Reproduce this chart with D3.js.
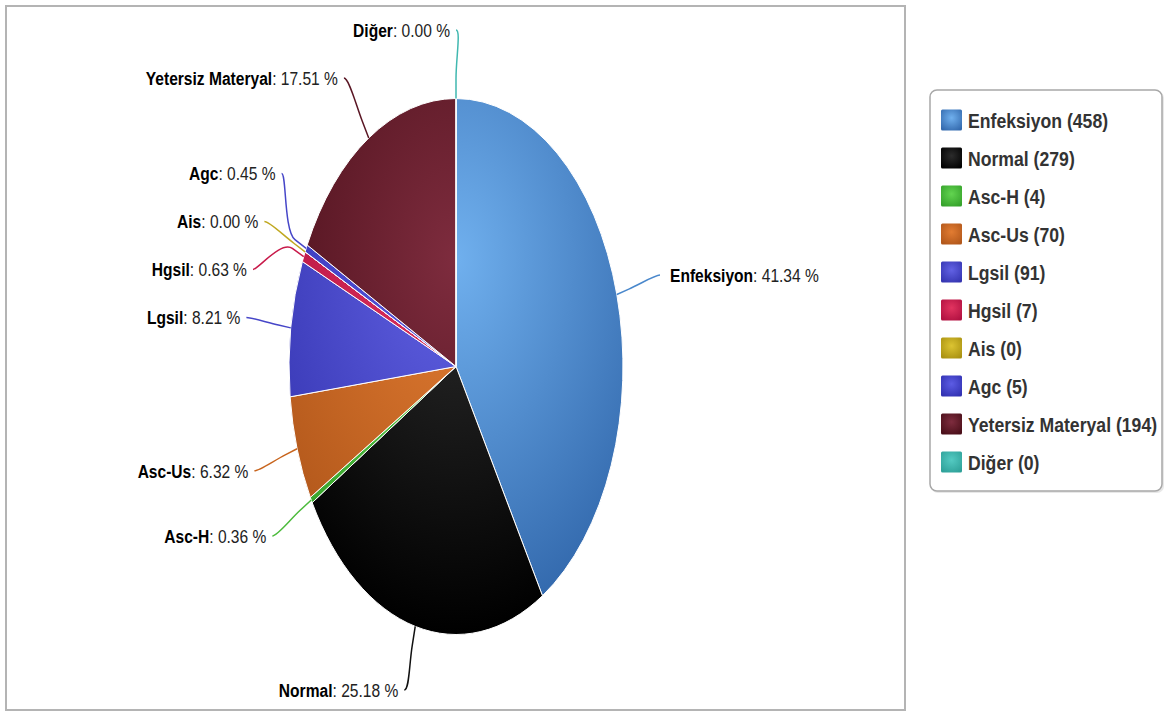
<!DOCTYPE html>
<html>
<head>
<meta charset="utf-8">
<script src="https://cdn.jsdelivr.net/npm/d3@7"></script>
<style>
  body { margin: 0; background: #fff; }
  text { font-family: "Liberation Sans", Arial, sans-serif; }
</style>
</head>
<body>
<div id="chart"></div>
<script>
// data
const categories = ["Enfeksiyon", "Normal", "Asc-H", "Asc-Us", "Lgsil", "Hgsil", "Ais", "Agc", "Yetersiz Materyal", "Diğer"];
const counts = [458, 279, 4, 70, 91, 7, 0, 5, 194, 0];
const lightColors = ["#70b0ee", "#2c2c2c", "#62d450", "#e27c32", "#6262e4", "#e23460", "#dcc432", "#5c5ce4", "#7e2c3e", "#54cac2"];
const darkColors = ["#3268ac", "#000000", "#34a02a", "#b0561a", "#3434b0", "#b01040", "#a89010", "#3030b0", "#480e18", "#2ea098"];
const baseColors = ["#4a88cc", "#111111", "#4cbb3c", "#c8651e", "#4646c8", "#c81a4a", "#c0a820", "#4646c8", "#5a1624", "#40b8b0"];

function init() {
    const w = 1175, h = 712;
    const cx = 456, cy = 366.5;
    const r = 268;          // vertical radius
    const sx = 0.623;       // horizontal squeeze of the picture
    const labelR = 340;     // radius where the labels sit
    const connOff = 20;

    const svg = d3.select("#chart").append("svg")
        .attr("width", w).attr("height", h);

    const defs = svg.append("defs");

    // outer frame
    svg.append("rect")
        .attr("x", 6).attr("y", 6).attr("width", 899).attr("height", 704)
        .attr("fill", "none").attr("stroke", "#b4b4b4").attr("stroke-width", 2);

    // gradients for slices (pie user space) and legend swatches
    categories.forEach((c, i) => {
        const g = defs.append("radialGradient")
            .attr("id", "pg" + i)
            .attr("gradientUnits", "userSpaceOnUse")
            .attr("cx", 0).attr("cy", -0.2 * 2 * r).attr("r", 0.7 * 2 * r);
        g.append("stop").attr("offset", 0).attr("stop-color", lightColors[i]);
        g.append("stop").attr("offset", 1).attr("stop-color", darkColors[i]);

        const lg = defs.append("radialGradient")
            .attr("id", "lg" + i)
            .attr("cx", 0.5).attr("cy", 0.4).attr("r", 0.7);
        lg.append("stop").attr("offset", 0).attr("stop-color", lightColors[i]);
        lg.append("stop").attr("offset", 1).attr("stop-color", darkColors[i]);
    });

    const total = d3.sum(counts);
    const rows = categories.map((c, i) => ({ name: c, value: counts[i], i: i }));

    const pie = d3.pie().sort(null).value(d => d.value);
    const arcs = pie(rows);
    const arc = d3.arc().innerRadius(0).outerRadius(r);

    const pieG = svg.append("g")
        .attr("transform", `translate(${cx},${cy}) scale(${sx},1)`);

    pieG.selectAll("path")
        .data(arcs)
        .enter()
        .append("path")
        .attr("d", arc)
        .attr("fill", d => `url(#pg${d.data.i})`)
        .attr("stroke", "#fff")
        .attr("stroke-width", 1)
        .attr("vector-effect", "non-scaling-stroke");

    // label layout
    const labels = arcs.map(d => {
        const a = (d.startAngle + d.endAngle) / 2;
        return {
            d: d,
            a: a,
            left: a > Math.PI,
            ny: cy - Math.cos(a) * labelR,
            edge: [cx + Math.sin(a) * r * sx, cy - Math.cos(a) * r],
            brk: [cx + Math.sin(a) * (r + connOff) * sx, cy - Math.cos(a) * (r + connOff)]
        };
    });

    const gap = 48, yMin = 30, yMax = 690;
    [true, false].forEach(side => {
        const grp = labels.filter(l => l.left === side).sort((a, b) => a.ny - b.ny);
        grp.forEach(l => { l.y = l.ny; });
        for (let k = 0; k < 200; k++) {
            for (let j = 1; j < grp.length; j++) {
                const ov = gap - (grp[j].y - grp[j - 1].y);
                if (ov > 0) {
                    grp[j - 1].y -= ov / 2;
                    grp[j].y += ov / 2;
                }
            }
            grp.forEach(l => { l.y = Math.max(yMin, Math.min(yMax, l.y)); });
        }
    });

    labels.forEach(l => {
        const clamped = (l.ny < yMin || l.ny > yMax);
        const yy = clamped ? l.ny : l.y;
        const t = Math.max(-1, Math.min(1, (yy - cy) / labelR));
        const dx = Math.sqrt(1 - t * t) * labelR * sx;
        l.x = cx + (l.left ? -dx : dx);
    });

    const lab = svg.append("g");

    labels.forEach(l => {
        const col = baseColors[l.d.data.i];
        const s = l.left ? 1 : -1;
        const p = d3.path();
        p.moveTo(l.x, l.y);
        p.bezierCurveTo(l.x + 5 * s, l.y,
            2 * l.brk[0] - l.edge[0], 2 * l.brk[1] - l.edge[1],
            l.brk[0], l.brk[1]);
        p.lineTo(l.edge[0], l.edge[1]);
        lab.append("path")
            .attr("d", p.toString())
            .attr("fill", "none")
            .attr("stroke", col)
            .attr("stroke-width", 1.5);

        const tx = l.left ? l.x - 6 : l.x + 10;
        const txt = lab.append("text")
            .attr("transform", `translate(${tx},${l.y}) scale(0.82,1)`)
            .attr("text-anchor", l.left ? "end" : "start")
            .attr("dy", "0.36em")
            .attr("font-size", 19)
            .attr("fill", "#222");
        txt.append("tspan").attr("font-weight", "bold").attr("fill", "#000").text(l.d.data.name);
        txt.append("tspan").text(": " + (l.d.data.value / total * 100).toFixed(2) + " %");
    });

    // legend
    const legend = svg.append("g");
    legend.append("rect")
        .attr("x", 931).attr("y", 91).attr("width", 233).attr("height", 402)
        .attr("rx", 7).attr("fill", "#e8e8e8");
    legend.append("rect")
        .attr("x", 930).attr("y", 90).attr("width", 232).attr("height", 401)
        .attr("rx", 7).attr("fill", "#fff").attr("stroke", "#a8a8a8").attr("stroke-width", 1.5);

    const rowY = d3.scalePoint().domain(categories).range([120, 462]);

    const item = legend.selectAll("g.item")
        .data(rows)
        .enter()
        .append("g")
        .attr("class", "item")
        .attr("transform", d => `translate(941,${rowY(d.name)})`);

    item.append("rect")
        .attr("x", 0).attr("y", -10.5).attr("width", 21).attr("height", 21)
        .attr("rx", 1.5)
        .attr("fill", d => `url(#lg${d.i})`);

    item.append("text")
        .attr("transform", "translate(27,0) scale(0.84,1)")
        .attr("dy", "0.36em")
        .attr("font-size", 21)
        .attr("font-weight", "bold")
        .attr("fill", "#333")
        .text(d => `${d.name} (${d.value})`);
}

window.onload = init;
</script>
</body>
</html>
